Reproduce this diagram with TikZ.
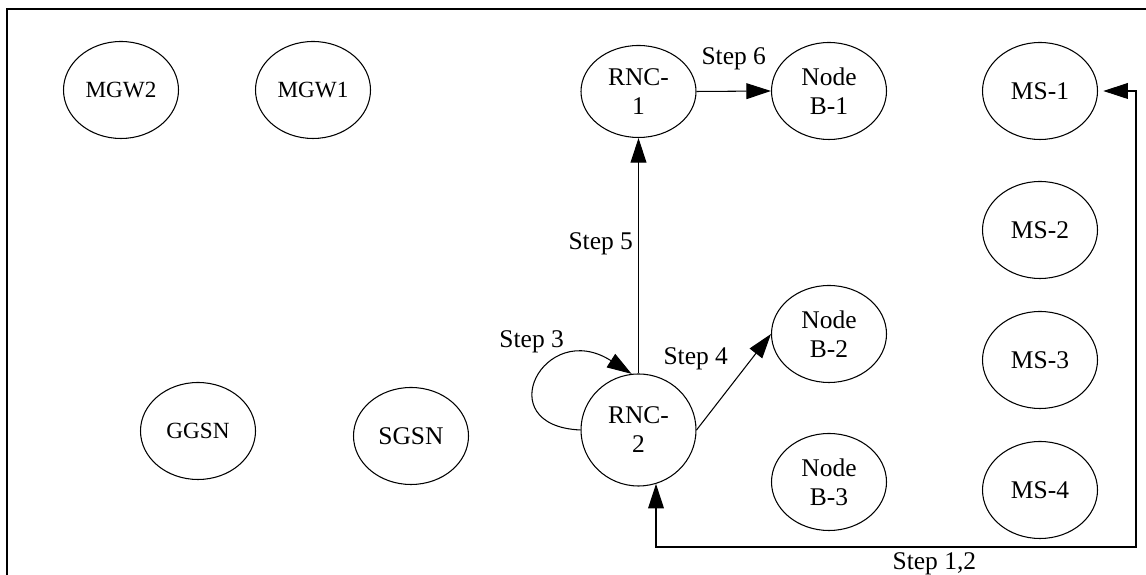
\documentclass[tikz,border=0pt]{standalone}
\usepackage{fontspec}
\setmainfont{Liberation Serif}
\usetikzlibrary{arrows.meta,positioning,shapes.geometric}
\tikzset{
  ent/.style={ellipse, draw, line width=0.6pt, minimum width=2.3cm, minimum height=1.94cm, inner sep=0pt, align=center, font=\fontsize{14.5}{16.5}\selectfont},
  entsm/.style={ent, font=\fontsize{13.2}{15}\selectfont},
  link/.style={line width=0.6pt, -{Triangle[length=14pt,width=9pt]}},
  linkboth/.style={line width=0.6pt, {Triangle[length=14pt,width=9pt]}-{Triangle[length=14pt,width=9pt]}},
  steplbl/.style={font=\fontsize{14.5}{16.5}\selectfont, inner sep=0pt},
  frame/.style={line width=1.2pt},
}

\begin{document}
\begin{tikzpicture}
 \useasboundingbox (0,0) rectangle (22.92,11.5);
 \draw[frame] (0.14,-0.5) |- (23.5,11.32);
 % core side
 \node[entsm] (mgw2) at (2.42,9.70) {MGW2};
 \node[entsm] (mgw1) at (6.26,9.70) {MGW1};
 \node[entsm] (ggsn) at (3.96,2.88) {GGSN};
 \node[ent] (sgsn) at (8.22,2.78) {SGSN};
 % radio side
 \node[ent, minimum height=1.84cm] (rnc1) at (12.77,9.67) {RNC-\\1};
 \node[ent, minimum height=2.24cm] (rnc2) at (12.77,2.90) {RNC-\\2};
 \node[ent] (nb1) at (16.58,9.68) {Node\\B-1};
 \node[ent] (nb2) at (16.58,4.82) {Node\\B-2};
 \node[ent] (nb3) at (16.58,1.86) {Node\\B-3};
 \node[ent] (ms1) at (20.80,9.68) {MS-1};
 \node[ent] (ms2) at (20.80,6.90) {MS-2};
 \node[ent] (ms3) at (20.80,4.30) {MS-3};
 \node[ent] (ms4) at (20.80,1.70) {MS-4};
 \coordinate (turn) at (22.72,0.56);
 % steps
 \draw[linkboth, shorten >=3pt] (rnc2.-72) |- (turn)
   node[steplbl, pos=0.79, below=0.1cm] {Step 1,2} |- (ms1.east);
 \draw[link] (rnc2.west) .. controls +(-1.85,0.08) and +(-1.75,1.12) .. (rnc2.97)
   node[steplbl, pos=0.6, above=0.3cm, xshift=-0.35cm] {Step 3};
 \draw[link] (rnc2.east) -- (nb2.west)
   node[steplbl, pos=0.5, xshift=-0.76cm, yshift=0.46cm] {Step 4};
 \draw[link] (rnc2.north) -- (rnc1.south)
   node[steplbl, pos=0.55, left=0.1cm] {Step 5};
 \draw[link] (rnc1.east) -- (nb1.west)
   node[steplbl, midway, above=0.41cm] {Step 6};
\end{tikzpicture}
\end{document}
